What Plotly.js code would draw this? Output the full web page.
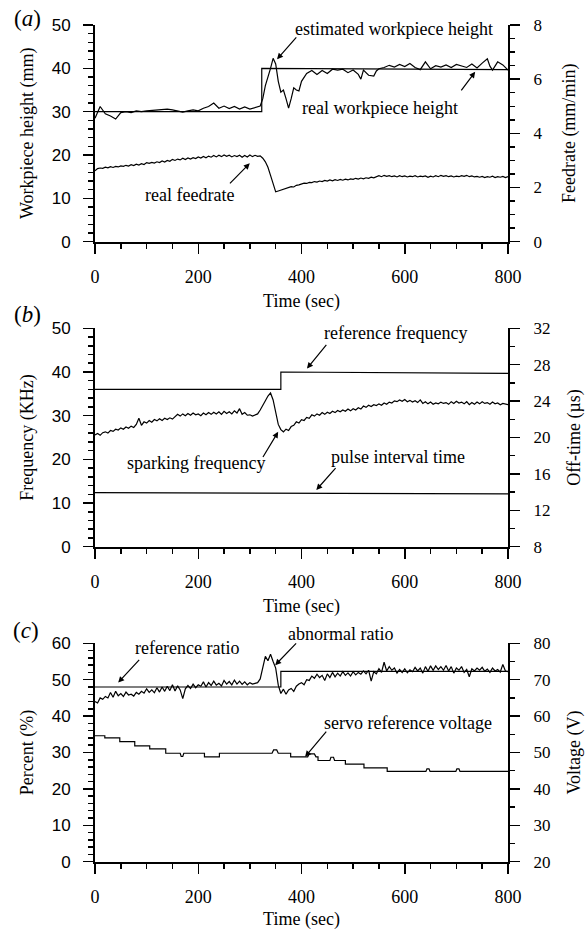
<!DOCTYPE html>
<html>
<head>
<meta charset="utf-8">
<script src="https://cdn.plot.ly/plotly-3.0.1.min.js"></script>
<style>html,body{margin:0;padding:0;background:#fff;}</style>
</head>
<body>
<div id="chart" style="width:585px;height:930px;"></div>
<script>
// ---------- DATA ----------
// common 5-second time grid (sec)
const T5 = [
  0,5,10,15,20,25,30,35,40,45,
  50,55,60,65,70,75,80,85,90,95,
  100,105,110,115,120,125,130,135,140,145,
  150,155,160,165,170,175,180,185,190,195,
  200,205,210,215,220,225,230,235,240,245,
  250,255,260,265,270,275,280,285,290,295,
  300,305,310,315,320,325,330,335,340,345,
  350,355,360,365,370,375,380,385,390,395,
  400,405,410,415,420,425,430,435,440,445,
  450,455,460,465,470,475,480,485,490,495,
  500,505,510,515,520,525,530,535,540,545,
  550,555,560,565,570,575,580,585,590,595,
  600,605,610,615,620,625,630,635,640,645,
  650,655,660,665,670,675,680,685,690,695,
  700,705,710,715,720,725,730,735,740,745,
  750,755,760,765,770,775,780,785,790,795,
  800
];

// (a) step workpiece height (mm)
const stepHeightT = [0, 323, 323, 800];
const stepHeightV = [30, 30, 40, 39.7];

// (a) wiggly workpiece height (mm)
const wigHeightT = [0,10,20,30,40,50,60,70,80,90,100,110,120,130,140,150,160,170,180,190,200,210,220,230,240,250,260,270,280,290,300,310,320,325,330,340,345,350,355,360,365,370,375,380,385,390,395,400,410,420,430,440,450,460,470,480,490,500,510,515,520,530,540,545,550,560,570,580,590,600,610,620,630,640,650,660,670,680,690,700,710,720,730,740,750,760,765,770,780,790,800];
const wigHeightV = [28.5,31.2,29.5,29.0,28.3,29.8,30.0,29.8,30.2,30.0,30.2,30.3,30.5,30.6,30.6,30.4,30.1,29.9,30.2,30.4,30.2,30.8,31.2,32.0,30.8,31.3,30.7,31.2,30.6,31.1,30.6,30.9,31.3,33.0,36.0,40.0,42.3,41.0,37.0,34.5,35.0,33.0,30.8,33.0,35.5,35.0,34.8,37.0,38.8,39.5,38.6,39.5,38.8,39.8,39.6,39.8,39.0,39.6,38.6,37.5,39.6,38.4,38.2,39.4,39.9,40.2,40.7,40.3,40.9,40.4,41.1,40.2,39.7,41.5,39.9,40.6,40.3,40.8,40.2,40.9,40.5,40.2,41.0,40.1,41.2,42.2,40.5,39.6,41.5,40.8,39.6];

// (a) real feedrate (mm/min), on T5
const feedrate = [
  2.62,2.70,2.72,2.71,2.75,2.73,2.77,2.74,2.78,2.76,
  2.80,2.78,2.82,2.79,2.84,2.81,2.86,2.83,2.88,2.85,
  2.92,2.89,2.93,2.90,2.95,2.92,2.98,2.94,3.00,2.97,
  3.04,3.00,3.05,3.02,3.08,3.03,3.09,3.05,3.10,3.07,
  3.13,3.09,3.15,3.10,3.16,3.12,3.18,3.13,3.19,3.14,
  3.20,3.15,3.19,3.13,3.18,3.14,3.19,3.12,3.18,3.13,
  3.20,3.14,3.19,3.15,3.17,3.08,2.95,2.75,2.45,2.10,
  1.84,1.87,1.90,1.92,1.96,1.98,2.03,2.02,2.08,2.10,
  2.14,2.16,2.15,2.19,2.18,2.22,2.20,2.24,2.22,2.26,
  2.24,2.28,2.25,2.29,2.26,2.30,2.27,2.31,2.28,2.32,
  2.30,2.34,2.31,2.35,2.32,2.36,2.34,2.38,2.36,2.40,
  2.44,2.40,2.45,2.41,2.44,2.40,2.43,2.39,2.44,2.40,
  2.43,2.39,2.42,2.40,2.44,2.39,2.42,2.40,2.43,2.38,
  2.42,2.39,2.44,2.40,2.45,2.41,2.44,2.40,2.43,2.39,
  2.42,2.40,2.44,2.41,2.45,2.40,2.43,2.39,2.41,2.38,
  2.41,2.37,2.40,2.38,2.42,2.37,2.40,2.38,2.41,2.37,
  2.40
];

// (b) reference frequency (KHz)
const refFreqT = [0, 360, 360, 800];
const refFreqV = [36, 36, 40, 39.7];

// (b) sparking frequency (KHz), on T5
const sparkFreq = [
  25.6,25.9,25.5,26.1,26.3,26.0,26.6,26.4,26.9,26.7,
  27.2,26.9,27.4,27.1,27.6,27.3,28.0,29.4,27.8,28.6,
  28.3,28.9,28.5,29.1,28.8,29.3,28.9,29.4,29.1,29.5,
  29.2,29.8,30.3,29.9,30.4,30.0,30.5,30.1,30.6,30.2,
  30.4,30.0,30.6,30.2,30.7,30.3,30.8,30.4,30.9,30.3,
  31.0,30.5,30.9,30.4,31.1,30.6,31.6,30.3,30.7,30.1,
  30.2,29.9,30.1,30.4,31.3,32.2,33.4,34.5,35.2,33.6,
  30.6,28.0,26.8,26.3,26.9,26.6,27.5,27.8,28.6,28.3,
  29.1,28.9,29.6,29.4,30.2,29.9,30.4,30.1,30.7,30.3,
  30.8,30.5,31.0,30.7,31.2,30.9,31.3,31.0,31.5,31.1,
  31.6,31.3,31.8,31.5,32.2,31.9,32.4,32.1,32.5,32.3,
  32.7,32.4,32.9,32.6,33.1,32.9,33.4,33.2,33.6,33.3,
  33.7,33.2,33.5,33.1,33.4,33.0,33.6,32.8,33.2,32.7,
  33.1,32.6,32.9,32.7,33.1,32.8,33.0,32.6,33.2,32.8,
  33.3,32.9,33.1,32.7,33.2,32.5,33.0,32.6,33.1,32.7,
  33.2,32.8,33.0,32.6,33.1,32.7,32.9,32.5,32.8,32.6,
  32.5
];

// (b) pulse interval time (µs)
const pulseT = [0, 800];
const pulseV = [13.95, 13.8];

// (c) reference ratio (%)
const refRatioT = [0, 360, 360, 800];
const refRatioV = [48, 48, 52.3, 52.3];

// (c) abnormal ratio (%), on T5
const abnRatio = [
  44.0,43.6,45.0,44.6,45.4,45.0,46.5,45.2,46.8,45.6,
  46.2,45.4,46.6,45.8,46.0,45.5,46.5,46.0,46.8,46.3,
  47.5,46.5,47.2,46.4,47.8,46.6,48.0,46.8,48.2,47.0,
  48.6,46.9,48.3,47.2,44.8,47.5,48.4,47.6,48.8,47.8,
  48.6,48.2,49.4,48.0,49.2,48.4,49.6,48.5,49.0,48.3,
  49.8,48.8,49.5,48.6,49.9,48.8,49.6,48.7,49.4,48.6,
  49.2,48.8,49.0,49.2,50.2,53.5,56.4,55.2,57.0,55.0,
  53.2,48.5,46.2,47.4,46.0,47.2,47.6,46.8,48.2,48.8,
  49.2,48.6,50.0,49.8,51.0,50.4,51.5,50.6,51.2,49.8,
  51.6,50.6,52.0,50.8,51.8,51.0,52.2,51.2,51.9,51.0,
  52.2,51.3,52.0,51.5,52.4,51.6,52.6,49.6,52.2,51.6,
  53.0,52.0,54.8,52.4,53.6,52.6,53.2,51.8,52.8,52.0,
  53.0,51.9,52.7,52.2,53.4,52.4,53.2,51.8,53.6,52.3,
  53.8,52.6,53.8,52.8,53.6,52.6,53.9,52.4,53.6,51.8,
  53.2,52.6,53.6,52.0,52.8,50.8,53.0,52.4,53.2,52.6,
  53.4,52.3,52.9,52.0,53.2,52.4,52.8,52.1,54.2,52.4,
  52.2
];

// (c) servo reference voltage (V), staircase
const servoT = [0,19,19,48,48,77,77,106,106,137,137,165,167,170,172,212,212,241,241,343,346,352,355,379,379,412,415,425,428,432,432,455,457,462,464,485,485,521,521,566,566,641,643,647,649,699,701,705,707,800];
const servoV = [54.6,54.6,54.0,54.0,53.0,53.0,51.8,51.8,51.0,51.0,49.8,49.8,48.9,48.9,49.8,49.8,48.8,48.8,49.8,49.8,50.7,50.7,49.8,49.8,48.8,48.8,49.6,49.6,48.8,48.8,47.8,47.8,48.7,48.7,47.8,47.8,46.8,46.8,45.8,45.8,44.8,44.8,45.5,45.5,44.8,44.8,45.5,45.5,44.8,44.8];

// tick labels / titles
const xTitle = 'Time (sec)';
const panelLabels = ['(<i>a</i>)', '(<i>b</i>)', '(<i>c</i>)'];

// ---------- STYLE ----------
const SERIF = 'Liberation Serif, Times New Roman, serif';
const SANS = 'Liberation Sans, Arial, sans-serif';
const LW = 1.2;
const line = {color: '#000', width: LW};

const traces = [
  {x: stepHeightT, y: stepHeightV, xaxis: 'x', yaxis: 'y', mode: 'lines', line},
  {x: wigHeightT, y: wigHeightV, xaxis: 'x', yaxis: 'y', mode: 'lines', line},
  {x: T5, y: feedrate, xaxis: 'x', yaxis: 'y2', mode: 'lines', line},
  {x: refFreqT, y: refFreqV, xaxis: 'x2', yaxis: 'y3', mode: 'lines', line},
  {x: T5, y: sparkFreq, xaxis: 'x2', yaxis: 'y3', mode: 'lines', line},
  {x: pulseT, y: pulseV, xaxis: 'x2', yaxis: 'y4', mode: 'lines', line},
  {x: refRatioT, y: refRatioV, xaxis: 'x3', yaxis: 'y5', mode: 'lines', line},
  {x: T5, y: abnRatio, xaxis: 'x3', yaxis: 'y5', mode: 'lines', line},
  {x: servoT, y: servoV, xaxis: 'x3', yaxis: 'y6', mode: 'lines', line}
];

const XD = [95/585, 508/585];
const doms = [
  [1 - 241.7/930, 1 - 25/930],
  [1 - 546.7/930, 1 - 328.3/930],
  [1 - 861.7/930, 1 - 643.3/930]
];

function xAxis(anchor) {
  return {
    domain: XD, anchor: anchor, range: [0, 800],
    showline: true, linewidth: 2, linecolor: '#000',
    showgrid: false, zeroline: false,
    ticks: 'outside', ticklen: 10, tickwidth: 1.5, tickcolor: '#000',
    tick0: 0, dtick: 200, ticklabelstandoff: 8,
    minor: {dtick: 50, ticks: 'outside', ticklen: 5, tickwidth: 1.5, tickcolor: '#000', showgrid: false},
    tickfont: {family: SERIF, size: 18, color: '#000'},
    title: {text: xTitle, font: {family: SERIF, size: 18, color: '#000'}, standoff: 8},
    automargin: false
  };
}
function yLeft(dom, anchor, range, dtick, mdt, title) {
  return {
    domain: dom, anchor: anchor, range: range,
    showline: true, linewidth: 2, linecolor: '#000',
    showgrid: false, zeroline: false,
    ticks: 'outside', ticklen: 10, tickwidth: 1.5, tickcolor: '#000',
    tick0: range[0], dtick: dtick, ticklabelstandoff: 9,
    minor: {dtick: mdt, ticks: 'outside', ticklen: 5, tickwidth: 1.5, tickcolor: '#000', showgrid: false},
    tickfont: {family: SANS, size: 17, color: '#000'},
    title: {text: title, font: {family: SERIF, size: 18, color: '#000'}, standoff: 13},
    automargin: false
  };
}
function yRight(overlay, anchor, range, dtick, mdt, title) {
  return {
    overlaying: overlay, side: 'right', anchor: anchor, range: range,
    showline: true, linewidth: 2, linecolor: '#000',
    showgrid: false, zeroline: false,
    ticks: 'outside', ticklen: 10, tickwidth: 1.5, tickcolor: '#000',
    tick0: range[0], dtick: dtick, ticklabelstandoff: 10,
    minor: {dtick: mdt, ticks: 'outside', ticklen: 5, tickwidth: 1.5, tickcolor: '#000', showgrid: false},
    tickfont: {family: SERIF, size: 17, color: '#000'},
    title: {text: title, font: {family: SERIF, size: 18, color: '#000'}, standoff: 21},
    automargin: false
  };
}

const AF = {family: SERIF, size: 18, color: '#000'};
function txt(xr, yr, x, y, text) {
  return {xref: xr, yref: yr, x: x, y: y, text: text, showarrow: false, font: AF, xanchor: 'center', yanchor: 'middle'};
}
function arr(xr, yr, x, y, ax, ay) {
  return {xref: xr, yref: yr, x: x, y: y, text: '', showarrow: true, ax: ax, ay: ay,
          arrowhead: 2, arrowsize: 1, arrowwidth: 1.2, arrowcolor: '#000'};
}
const PF = {family: SERIF, size: 23, color: '#000'};
function plabel(x, y, text) {
  return {xref: 'paper', yref: 'paper', x: x, y: y, text: text, showarrow: false, font: PF, xanchor: 'center', yanchor: 'middle'};
}

const annotations = [
  txt('x', 'y', 579, 49.0, 'estimated workpiece height'),
  txt('x', 'y', 552, 30.8, 'real workpiece height'),
  txt('x', 'y', 184, 10.8, 'real feedrate'),
  arr('x', 'y', 352.6, 42.1, 20.6, -23.3),
  arr('x', 'y', 736.4, 39.2, -15, 20),
  arr('x', 'y', 299.8, 18.1, -21.3, 21.7),

  txt('x2', 'y3', 582, 48.9, 'reference frequency'),
  txt('x2', 'y3', 195, 19.1, 'sparking frequency'),
  txt('x2', 'y3', 586.5, 20.5, 'pulse interval time'),
  arr('x2', 'y3', 410.6, 40.8, 20.6, -25),
  arr('x2', 'y3', 354.8, 26.3, -16.1, 26.7),
  arr('x2', 'y3', 428.7, 13.0, 20.6, -23.3),

  txt('x3', 'y5', 179, 58.6, 'reference ratio'),
  {xref: 'paper', yref: 'paper', x: 340.6/585, y: 1 - 633.5/930, text: 'abnormal ratio', showarrow: false, font: AF, xanchor: 'center', yanchor: 'middle'},
  txt('x3', 'y5', 606, 38.0, 'servo reference voltage'),
  arr('x3', 'y5', 44.9, 49.2, 22.4, -24.3),
  arr('x3', 'y5', 349, 54.0, 22.4, -23.3),
  arr('x3', 'y5', 407, 28.8, 22.4, -26.7),

  plabel(27/585, 1 - 19/930, panelLabels[0]),
  plabel(27/585, 1 - 315/930, panelLabels[1]),
  plabel(26/585, 1 - 630/930, panelLabels[2])
];

const layout = {
  width: 585, height: 930,
  margin: {l: 0, r: 0, t: 0, b: 0},
  paper_bgcolor: '#fff', plot_bgcolor: '#fff',
  showlegend: false,
  font: {family: SERIF, color: '#000'},
  xaxis: xAxis('y'),
  xaxis2: xAxis('y3'),
  xaxis3: xAxis('y5'),
  yaxis: yLeft(doms[0], 'x', [0, 50], 10, 2, 'Workpiece height (mm)'),
  yaxis2: yRight('y', 'x', [0, 8], 2, 0.5, 'Feedrate (mm/min)'),
  yaxis3: yLeft(doms[1], 'x2', [0, 50], 10, 2, 'Frequency (KHz)'),
  yaxis4: yRight('y3', 'x2', [8, 32], 4, 2, 'Off-time (µs)'),
  yaxis5: yLeft(doms[2], 'x3', [0, 60], 10, 2, 'Percent (%)'),
  yaxis6: yRight('y5', 'x3', [20, 80], 10, 5, 'Voltage (V)'),
  annotations: annotations
};

Plotly.newPlot('chart', traces, layout, {staticPlot: true, displayModeBar: false});
</script>
</body>
</html>
